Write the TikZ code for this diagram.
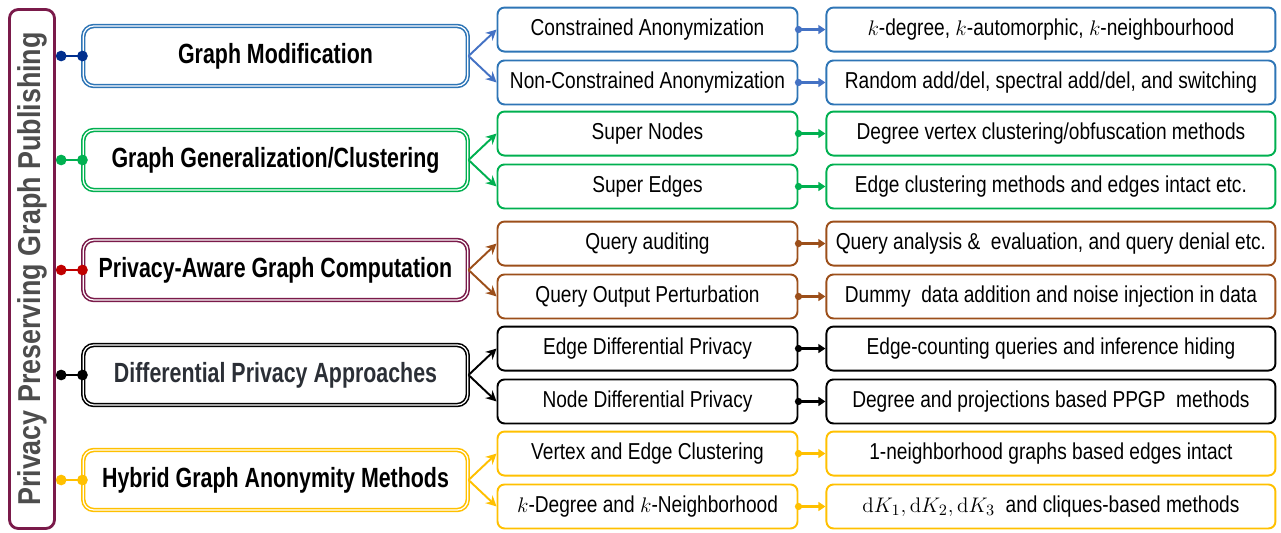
\documentclass[tikz,border=0pt]{standalone}
\usepackage[no-math]{fontspec}
\setmainfont{Liberation Sans}
\newfontfamily\grpfont{Liberation Sans}[FakeStretch=0.77]
\newfontfamily\itemfont{Liberation Sans}[FakeStretch=0.83]
\newfontfamily\sidefont{Liberation Sans}[FakeStretch=0.85]
\usepackage{xcolor}
\definecolor{gmblue}{HTML}{2E75B6}
\definecolor{gmline}{HTML}{4472C4}
\definecolor{gmdot}{HTML}{002F8E}
\definecolor{ggreen}{HTML}{00B050}
\definecolor{pamaroon}{HTML}{7A1A4A}
\definecolor{pared}{HTML}{C00000}
\definecolor{qbrown}{HTML}{9C4F1A}
\definecolor{hgold}{HTML}{FFC000}
\definecolor{sidegray}{HTML}{4D4D4D}
\definecolor{dpgray}{HTML}{2B2F36}
\usepackage{tikz}
\usetikzlibrary{
  arrows.meta,
  positioning
}

\begin{document}
\begin{tikzpicture}[
  side/.style={rectangle, rounded corners=5pt, draw=pamaroon, line width=1.6pt, minimum width=0.9cm, minimum height=10.38cm, inner sep=0pt, text=sidegray, font=\sidefont\bfseries\fontsize{18}{20}\selectfont},
  group/.style={rectangle, rounded corners=6pt, draw=#1, double=white, double distance=0.7pt, line width=0.9pt, minimum width=7.69cm, minimum height=1.2cm, font=\grpfont\bfseries\fontsize{15.8}{18}\selectfont},
  item/.style={rectangle, rounded corners=4pt, draw=#1, line width=1.1pt, minimum width=6cm, minimum height=0.88cm, inner sep=0pt, font=\itemfont\fontsize{13.1}{15}\selectfont},
  detail/.style={item=#1, minimum width=8.98cm},
  dotlink/.style={{Circle[length=6pt]}-{Circle[length=6pt]}, line width=1.4pt, draw=#1, shorten >=-3pt},
  fan/.style={-{Stealth[length=6pt, width=6pt]}, line width=1.1pt, draw=#1},
  pipe/.style={{Circle[length=4pt]}-{Triangle[length=4pt, width=5pt]}, line width=1.4pt, draw=#1, shorten <=-2pt},
]
\useasboundingbox (0,0) rectangle (25.62,-10.64);

% Root
\node[side] (pp) at (0.64,-5.38) {\rotatebox{90}{Privacy Preserving Graph Publishing}};

% Categories
\node[group=gmblue] (gm) at (5.51,-1.12) {Graph Modification};
\node[group=ggreen] (gg) at (5.51,-3.20) {Graph Generalization/Clustering};
\node[group=pamaroon] (pa) at (5.51,-5.40) {Privacy-Aware Graph Computation};
\node[group=black, text=dpgray] (dp) at (5.51,-7.50) {Differential Privacy Approaches};
\node[group=hgold] (hg) at (5.51,-9.60) {Hybrid Graph Anonymity Methods};

% Sub-categories
\node[item=gmblue, above right=0.07cm and 0.56cm of gm.east] (ca) {Constrained Anonymization};
\node[item=gmblue, below right=0.07cm and 0.56cm of gm.east] (nca) {Non-Constrained Anonymization};
\node[item=ggreen, above right=0.07cm and 0.56cm of gg.east] (sn) {Super Nodes};
\node[item=ggreen, below right=0.07cm and 0.56cm of gg.east] (se) {Super Edges};
\node[item=qbrown, above right=0.07cm and 0.56cm of pa.east] (qa) {Query auditing};
\node[item=qbrown, below right=0.07cm and 0.56cm of pa.east] (qo) {Query Output Perturbation};
\node[item=black, above right=0.07cm and 0.56cm of dp.east] (edp) {Edge Differential Privacy};
\node[item=black, below right=0.07cm and 0.56cm of dp.east] (ndp) {Node Differential Privacy};
\node[item=hgold, above right=0.07cm and 0.56cm of hg.east] (vec) {Vertex and Edge Clustering};
\node[item=hgold, below right=0.07cm and 0.56cm of hg.east] (kdn) {$k$-Degree and $k$-Neighborhood};

% Methods
\node[detail=gmblue, right=0.54cm of ca] (car) {$k$-degree, $k$-automorphic, $k$-neighbourhood};
\node[detail=gmblue, right=0.54cm of nca] (ncar) {Random add/del, spectral add/del, and switching};
\node[detail=ggreen, right=0.54cm of sn] (snr) {Degree vertex clustering/obfuscation methods};
\node[detail=ggreen, right=0.54cm of se] (ser) {Edge clustering methods and edges intact etc.};
\node[detail=qbrown, right=0.54cm of qa] (qar) {Query analysis \&\ \ evaluation, and query denial etc.};
\node[detail=qbrown, right=0.54cm of qo] (qor) {Dummy\ \ data addition and noise injection in data};
\node[detail=black, right=0.54cm of edp] (edpr) {Edge-counting queries and inference hiding};
\node[detail=black, right=0.54cm of ndp] (ndpr) {Degree and projections based PPGP\ \ methods};
\node[detail=hgold, right=0.54cm of vec] (vecr) {1-neighborhood graphs based edges intact};
\node[detail=hgold, right=0.54cm of kdn] (kdnr) {$\mathrm{d}K_1, \mathrm{d}K_2, \mathrm{d}K_3$\ \ and cliques-based methods};

% Root links
\draw[dotlink=gmdot] (pp.east |- gm.west) -- (gm.west);
\draw[dotlink=ggreen] (pp.east |- gg.west) -- (gg.west);
\draw[dotlink=pared] (pp.east |- pa.west) -- (pa.west);
\draw[dotlink=black] (pp.east |- dp.west) -- (dp.west);
\draw[dotlink=hgold] (pp.east |- hg.west) -- (hg.west);

% Fans
\draw[fan=gmline] (gm.east) -- (ca.west);
\draw[fan=gmline] (gm.east) -- (nca.west);
\draw[fan=ggreen] (gg.east) -- (sn.west);
\draw[fan=ggreen] (gg.east) -- (se.west);
\draw[fan=qbrown] (pa.east) -- (qa.west);
\draw[fan=qbrown] (pa.east) -- (qo.west);
\draw[fan=black] (dp.east) -- (edp.west);
\draw[fan=black] (dp.east) -- (ndp.west);
\draw[fan=hgold] (hg.east) -- (vec.west);
\draw[fan=hgold] (hg.east) -- (kdn.west);

% Pipes
\draw[pipe=gmline] (ca) -- (car);
\draw[pipe=gmline] (nca) -- (ncar);
\draw[pipe=ggreen] (sn) -- (snr);
\draw[pipe=ggreen] (se) -- (ser);
\draw[pipe=qbrown] (qa) -- (qar);
\draw[pipe=qbrown] (qo) -- (qor);
\draw[pipe=black] (edp) -- (edpr);
\draw[pipe=black] (ndp) -- (ndpr);
\draw[pipe=hgold] (vec) -- (vecr);
\draw[pipe=hgold] (kdn) -- (kdnr);

\end{tikzpicture}
\end{document}
